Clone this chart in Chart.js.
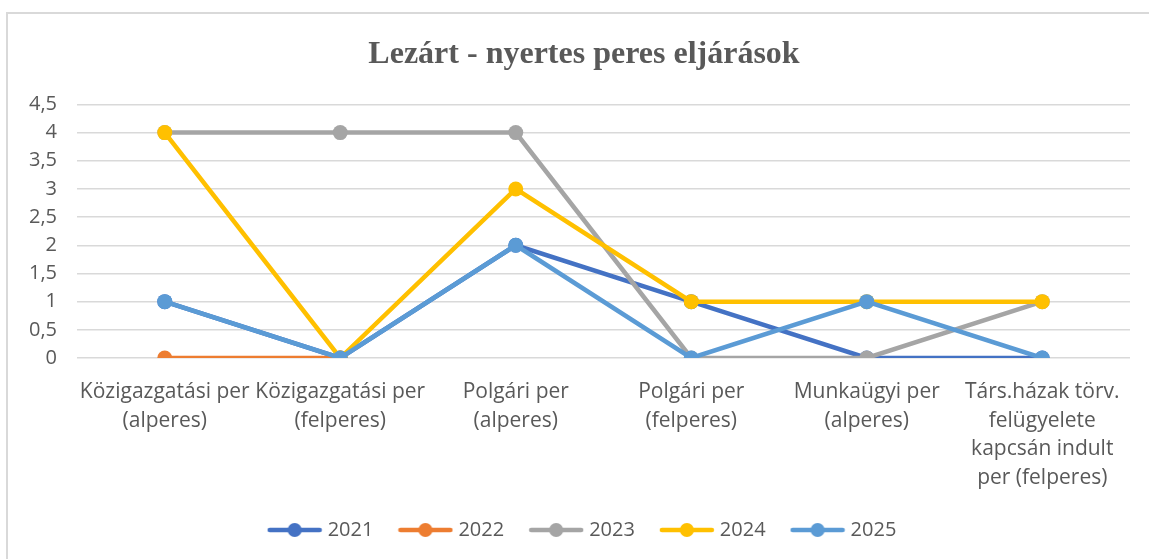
<!DOCTYPE html>
<html>
<head>
<meta charset="utf-8">
<script src="https://cdn.jsdelivr.net/npm/chart.js@4"></script>
<style>
  html, body { margin: 0; padding: 0; background: #fff; overflow: hidden; }
  #wrap { position: relative; width: 1149px; height: 559px; overflow: hidden; }
  #frame { position: absolute; left: 6px; top: 12px; width: 1200px; height: 600px; border: 2px solid #d9d9d9; }
  #mainChart { position: absolute; left: 0; top: 0; }
</style>
</head>
<body>
<div id="wrap">
  <div id="frame"></div>
  <canvas id="mainChart" width="1168" height="559" style="width:1168px;height:559px"></canvas>
</div>
<script>
// categories (x axis)
var categories = [
    ["Közigazgatási per", "(alperes)"],
    ["Közigazgatási per", "(felperes)"],
    ["Polgári per", "(alperes)"],
    ["Polgári per", "(felperes)"],
    ["Munkaügyi per", "(alperes)"],
    ["Társ.házak törv.", "felügyelete", "kapcsán indult", "per (felperes)"]
];

// series values
var years = ["2021", "2022", "2023", "2024", "2025"];
var data2021 = [1, 0, 2, 1, 0, 0];
var data2022 = [0, 0, null, null, null, null];
var data2023 = [4, 4, 4, 0, 0, 1];
var data2024 = [4, 0, 3, 1, 1, 1];
var data2025 = [1, 0, 2, 0, 1, 0];

var colors = ["#4472C4", "#ED7D31", "#A5A5A5", "#FFC000", "#5B9BD5"];
var textColor = "#595959";
var axisFont = "'Open Sans', 'Liberation Sans', sans-serif";

// little line+dot picture for the legend
function legendIcon(color) {
    var c = document.createElement("canvas");
    c.width = 56;
    c.height = 18;
    var g = c.getContext("2d");
    g.strokeStyle = color;
    g.lineWidth = 4.5;
    g.lineCap = "round";
    g.beginPath();
    g.moveTo(3, 9);
    g.lineTo(53, 9);
    g.stroke();
    g.fillStyle = color;
    g.beginPath();
    g.arc(28, 9, 7, 0, Math.PI * 2);
    g.fill();
    return c;
}

window.onload = function () {
    var allData = [data2021, data2022, data2023, data2024, data2025];
    var datasets = [];
    for (var i = 0; i < years.length; i++) {
        datasets.push({
            label: years[i],
            data: allData[i],
            borderColor: colors[i],
            backgroundColor: colors[i],
            borderWidth: 4.5,
            pointStyle: 'circle',
            pointRadius: 7.5,
            pointHoverRadius: 7.5,
            pointBorderWidth: 0,
            order: years.length - i, // later years drawn on top
            tension: 0
        });
    }

    var ctx = document.getElementById('mainChart').getContext('2d');
    var mainChart = new Chart(ctx, {
        type: 'line',
        data: {
            labels: categories,
            datasets: datasets
        },
        options: {
            responsive: false,
            animation: false,
            layout: {
                padding: { left: 0, right: 0, top: 0, bottom: 9 }
            },
            plugins: {
                title: {
                    display: true,
                    text: "Lezárt - nyertes peres eljárások",
                    color: textColor,
                    font: { family: "'Liberation Serif', 'Times New Roman', serif", size: 32, weight: 'bold' },
                    padding: { top: 36, bottom: 30 }
                },
                legend: {
                    position: 'bottom',
                    labels: {
                        usePointStyle: true,
                        pointStyleWidth: 46,
                        color: textColor,
                        font: { family: axisFont, size: 20 },
                        padding: 29,
                        sort: function (a, b) { return a.datasetIndex - b.datasetIndex; },
                        generateLabels: function (chart) {
                            var items = Chart.defaults.plugins.legend.labels.generateLabels(chart);
                            items.forEach(function (it) {
                                it.pointStyle = legendIcon(colors[it.datasetIndex]);
                            });
                            return items;
                        }
                    }
                },
                tooltip: { enabled: false }
            },
            scales: {
                x: {
                    offset: true,
                    grid: { display: false },
                    border: { display: false },
                    ticks: {
                        color: textColor,
                        maxRotation: 0,
                        autoSkip: false,
                        padding: 12,
                        font: { family: axisFont, size: 21, lineHeight: 1.36 }
                    },
                    afterFit: function (axis) { axis.height = 133; }
                },
                y: {
                    min: 0,
                    max: 4.5,
                    grid: { color: "#d9d9d9", lineWidth: 1.5, drawTicks: false },
                    border: { display: false },
                    ticks: {
                        stepSize: 0.5,
                        color: textColor,
                        padding: 20,
                        font: { family: axisFont, size: 20 },
                        callback: function (v) { return String(v).replace('.', ','); }
                    },
                    afterFit: function (axis) { axis.width = 77; }
                },
                // empty right axis, only keeps the plot's right edge where the original has it
                yRight: {
                    position: 'right',
                    min: 0,
                    max: 4.5,
                    grid: { display: false, drawOnChartArea: false },
                    border: { display: false },
                    ticks: { display: false },
                    afterFit: function (axis) { axis.width = 38; }
                }
            }
        }
    });
};
</script>
</body>
</html>
